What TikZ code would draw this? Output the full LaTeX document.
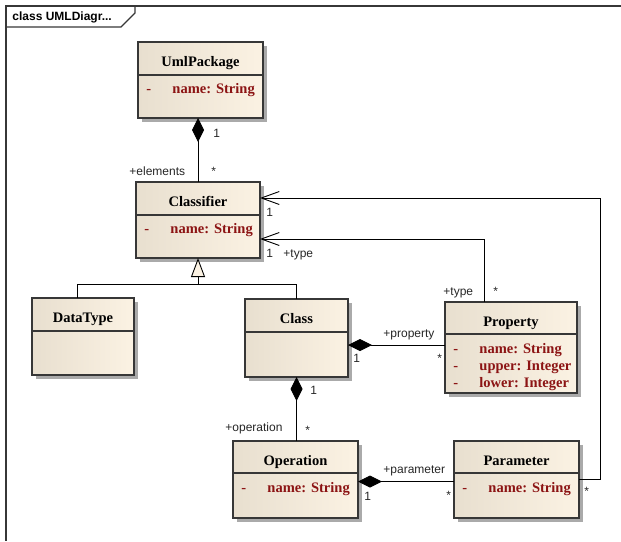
\documentclass[tikz,border=0pt]{standalone}
\usepackage{fontspec}
\setmainfont{Liberation Serif}
\setsansfont{Liberation Sans}
\usetikzlibrary{arrows.meta,shadows}

\definecolor{boxleft}{RGB}{232,223,207}
\definecolor{boxright}{RGB}{251,242,227}
\definecolor{attrred}{RGB}{140,20,20}
\definecolor{framegray}{RGB}{55,55,55}
\definecolor{shadowgray}{RGB}{170,170,170}

\begin{document}
\begin{tikzpicture}[x=1pt,y=-1pt,line width=.9pt,
    umlbox/.style={draw=framegray,line width=1.2pt,anchor=north west,inner sep=0pt,outer sep=0pt,
        left color=boxleft,right color=boxright,
        general shadow={fill=shadowgray,shadow xshift=4pt,shadow yshift=-4pt}},
    sepline/.style={draw=framegray,line width=1.2pt},
    hdr/.style={anchor=base,inner sep=0pt,font=\fontsize{14.5}{17}\selectfont\bfseries},
    attr/.style={anchor=base west,inner sep=0pt,text=attrred,font=\fontsize{14.5}{17}\selectfont\bfseries},
    lbl/.style={anchor=base west,inner sep=0pt,text=black!85,font=\sffamily\fontsize{12}{14}\selectfont},
    comp/.style={{Diamond[length=24pt,width=12pt]}-},
    gen/.style={{Triangle[length=19pt,width=14pt,fill=boxright]}-},
    assoc/.style={-{Straight Barb[length=18pt,width=13pt]}}]
    \useasboundingbox (0,0) rectangle (621,541);

    % frame
    \draw[framegray,line width=1.2pt] (621,6) -- (6,6) -- (6,541);
    \draw[framegray,line width=1.2pt] (6,27) -- (121,27) -- (135,13) -- (135,6);
    \node[anchor=base west,inner sep=0pt,font=\sffamily\bfseries\fontsize{12}{14}\selectfont] (title) at (12,20) {class UMLDiagr...};

    % classes
    \node[umlbox,minimum width=125pt,minimum height=76pt] (pkg) at (138,42) {};
    \draw[sepline] ([yshift=-33pt]pkg.north west) -- ([yshift=-33pt]pkg.north east);
    \node[hdr] (pkgname) at ([yshift=-24pt]pkg.north) {UmlPackage};
    \node[attr] (pkgvis) at ([shift={(8pt,-51pt)}]pkg.north west) {-};
    \node[attr] (pkgattr) at ([shift={(34pt,-51pt)}]pkg.north west) {name:\hspace{5pt}String};

    \node[umlbox,minimum width=124pt,minimum height=76pt] (clsf) at (136,182) {};
    \draw[sepline] ([yshift=-33pt]clsf.north west) -- ([yshift=-33pt]clsf.north east);
    \node[hdr] (clsfname) at ([yshift=-24pt]clsf.north) {Classifier};
    \node[attr] (clsfvis) at ([shift={(8pt,-51pt)}]clsf.north west) {-};
    \node[attr] (clsfattr) at ([shift={(34pt,-51pt)}]clsf.north west) {name:\hspace{5pt}String};

    \node[umlbox,minimum width=102pt,minimum height=77pt] (dtype) at (32,298) {};
    \draw[sepline] ([yshift=-33pt]dtype.north west) -- ([yshift=-33pt]dtype.north east);
    \node[hdr] (dtypename) at ([yshift=-24pt]dtype.north) {DataType};

    \node[umlbox,minimum width=103pt,minimum height=78pt] (cls) at (245,299) {};
    \draw[sepline] ([yshift=-33pt]cls.north west) -- ([yshift=-33pt]cls.north east);
    \node[hdr] (clsname) at ([yshift=-24pt]cls.north) {Class};

    \node[umlbox,minimum width=132pt,minimum height=91pt] (prop) at (445,302) {};
    \draw[sepline] ([yshift=-32pt]prop.north west) -- ([yshift=-32pt]prop.north east);
    \node[hdr] (propname) at ([yshift=-24pt]prop.north) {Property};
    \foreach \aname/\atext/\ay in {a/name:\hspace{5pt}String/51,b/upper:\hspace{5pt}Integer/68,c/lower:\hspace{5pt}Integer/85} {
        \node[attr] (propvis\aname) at ([shift={(8pt,-\ay pt)}]prop.north west) {-};
        \node[attr] (propattr\aname) at ([shift={(34pt,-\ay pt)}]prop.north west) {\atext};
    }

    \node[umlbox,minimum width=125pt,minimum height=77pt] (op) at (233,441) {};
    \draw[sepline] ([yshift=-32pt]op.north west) -- ([yshift=-32pt]op.north east);
    \node[hdr] (opname) at ([yshift=-24pt]op.north) {Operation};
    \node[attr] (opvis) at ([shift={(8pt,-51pt)}]op.north west) {-};
    \node[attr] (opattr) at ([shift={(34pt,-51pt)}]op.north west) {name:\hspace{5pt}String};

    \node[umlbox,minimum width=125pt,minimum height=77pt] (par) at (454,441) {};
    \draw[sepline] ([yshift=-32pt]par.north west) -- ([yshift=-32pt]par.north east);
    \node[hdr] (parname) at ([yshift=-24pt]par.north) {Parameter};
    \node[attr] (parvis) at ([shift={(8pt,-51pt)}]par.north west) {-};
    \node[attr] (parattr) at ([shift={(34pt,-51pt)}]par.north west) {name:\hspace{5pt}String};

    % connectors
    \draw[comp] (clsf.north |- pkg.south) -- (clsf.north);
    \draw[gen] (clsf.south) -- ++(0,26) coordinate (genjoin);
    \draw (genjoin) -| ([xshift=-6pt]dtype.north);
    \draw (genjoin) -| (cls.north);
    \coordinate (cpstart) at ([yshift=-7pt]cls.east);
    \draw[comp] (cpstart) -- (cpstart -| prop.west);
    \draw[comp] (cls.south) -- (cls.south |- op.north);
    \coordinate (opstart) at ([yshift=-2pt]op.east);
    \draw[comp] (opstart) -- (opstart -| par.west);
    \draw[assoc] (par.east) -- ++(21,0) |- ([yshift=-16pt]clsf.north east);
    \draw[assoc] ([xshift=-27pt]prop.north) |- ([yshift=-57pt]clsf.north east);

    % role and multiplicity labels
    \node[lbl] (m1) at (213,137) {1};
    \node[lbl] (relem) at (129,175) {+elements};
    \node[lbl] (m2) at (211,175) {*};
    \node[lbl] (m3) at (266,216) {1};
    \node[lbl] (m4) at (266,257) {1};
    \node[lbl] (rtype1) at (283,257) {+type};
    \node[lbl] (rtype2) at (443,295) {+type};
    \node[lbl] (m5) at (493,295) {*};
    \node[lbl] (rprop) at (383,337) {+property};
    \node[lbl] (m6) at (353,362) {1};
    \node[lbl] (m7) at (437,362) {*};
    \node[lbl] (m8) at (310,394) {1};
    \node[lbl] (roper) at (225,431) {+operation};
    \node[lbl] (m9) at (305,434) {*};
    \node[lbl] (rparam) at (383,473) {+parameter};
    \node[lbl] (m10) at (364,500) {1};
    \node[lbl] (m11) at (446,499) {*};
    \node[lbl] (m12) at (584,495) {*};
\end{tikzpicture}
\end{document}
